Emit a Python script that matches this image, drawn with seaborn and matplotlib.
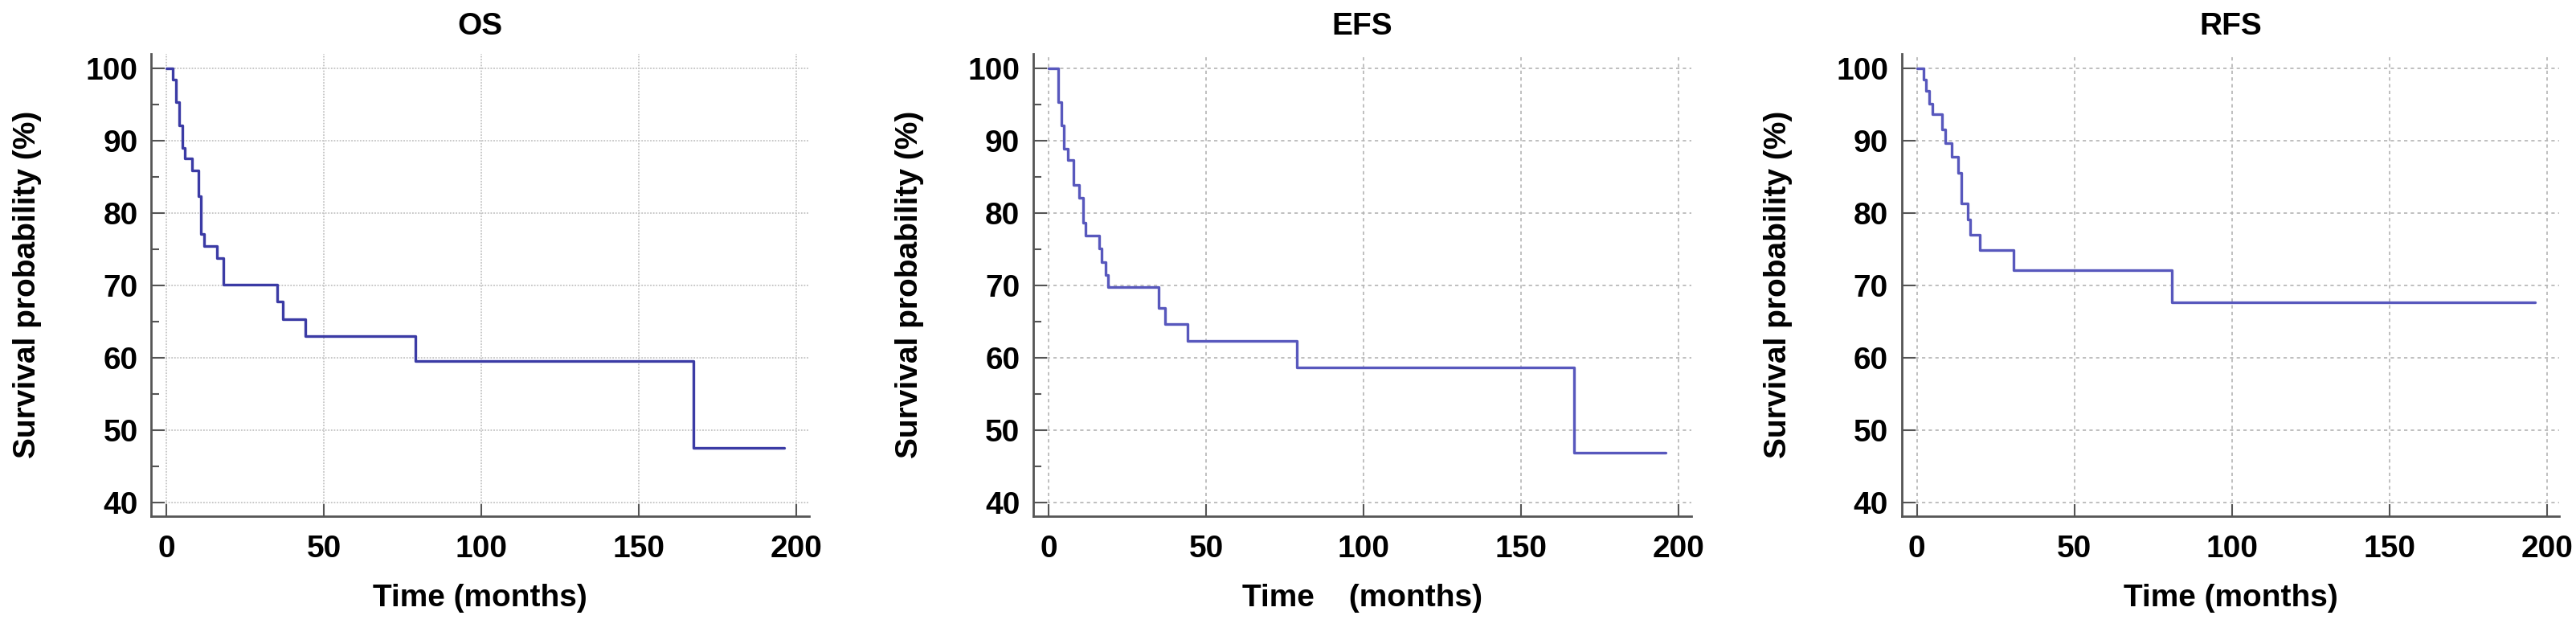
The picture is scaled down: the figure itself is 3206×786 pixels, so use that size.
import matplotlib
matplotlib.use("Agg")
import matplotlib.pyplot as plt
import seaborn as sns
import pandas as pd
from matplotlib.ticker import MultipleLocator

# ---- data ----
panel_titles = ["OS", "EFS", "RFS"]
x_labels = ["Time (months)", "Time    (months)", "Time (months)"]
x_ticks = [0, 50, 100, 150, 200]
y_ticks = [40, 50, 60, 70, 80, 90, 100]

os_time = [0, 1.9, 3.0, 4.0, 4.9, 5.9, 8.0, 10.0, 10.8, 11.8, 15.9, 18.0, 35.0, 36.9, 44.0, 78.9, 167.2, 196.0]
os_surv = [100, 98.4, 95.3, 92.1, 89.0, 87.5, 85.8, 82.3, 77.1, 75.4, 73.7, 70.1, 67.7, 65.3, 63.0, 59.5, 47.5, 47.5]

efs_time = [0, 3.0, 4.0, 4.9, 6.1, 7.9, 9.8, 10.9, 11.8, 16.1, 16.9, 18.1, 19.0, 34.9, 37.0, 44.2, 78.8, 166.9, 196.0]
efs_surv = [100, 95.3, 92.1, 88.8, 87.3, 83.8, 82.1, 78.6, 76.8, 75.1, 73.2, 71.4, 69.7, 66.9, 64.6, 62.3, 58.6, 46.9, 46.9]

rfs_time = [0, 2.1, 3.0, 3.8, 4.9, 8.0, 8.9, 11.0, 13.0, 14.0, 16.1, 17.0, 20.0, 30.8, 80.9, 196.2]
rfs_surv = [100, 98.4, 96.9, 95.1, 93.6, 91.5, 89.6, 87.7, 85.5, 81.3, 79.1, 77.0, 74.8, 72.1, 67.6, 67.6]

series = [(os_time, os_surv), (efs_time, efs_surv), (rfs_time, rfs_surv)]

# ---- styles ----
line_colors = ["#3b3ba5", "#5858bd", "#5858bd"]
grid_styles = [
    dict(color="#c4c4c4", linestyle=(0, (1, 1)), linewidth=1.3),
    dict(color="#b4b4b4", linestyle=(0, (2.5, 2.5)), linewidth=1.2),
    dict(color="#b4b4b4", linestyle=(0, (2.5, 2.5)), linewidth=1.2),
]
minor_y = [True, True, False]

sns.set_style("white")
plt.rcParams["font.family"] = ["Liberation Sans", "DejaVu Sans"]
plt.rcParams["font.weight"] = "bold"
plt.rcParams["axes.labelweight"] = "bold"
plt.rcParams["axes.titleweight"] = "bold"
plt.rcParams["text.color"] = "black"
plt.rcParams["axes.labelcolor"] = "black"
plt.rcParams["xtick.labelcolor"] = "black"
plt.rcParams["ytick.labelcolor"] = "black"

fig = plt.figure(figsize=(32.06, 7.86), dpi=100)
W, H = 3206.0, 786.0
lefts_px = [188.3, 1286.0, 2366.7]
ax_w = 818.7 / W
ax_b = (H - 641.7) / H
ax_h = 575.0 / H

spine_col = "#555555"

for i, (t, s) in enumerate(series):
    ax = fig.add_axes([lefts_px[i] / W, ax_b, ax_w, ax_h])
    df = pd.DataFrame({"time": t, "surv": s})
    sns.lineplot(data=df, x="time", y="surv", ax=ax, drawstyle="steps-post",
                 color=line_colors[i], linewidth=2.4, sort=False, zorder=3)
    ax.set_xlim(-4.85, 204)
    ax.set_ylim(38.1, 102.0)
    ax.set_xticks(x_ticks)
    ax.set_yticks(y_ticks)
    if minor_y[i]:
        ax.yaxis.set_minor_locator(MultipleLocator(5))
    ax.set_axisbelow(True)
    ax.grid(True, which="major", **grid_styles[i])
    ax.grid(False, which="minor")
    for side in ["top", "right"]:
        ax.spines[side].set_visible(False)
    for side in ["left", "bottom"]:
        ax.spines[side].set_color(spine_col)
        ax.spines[side].set_linewidth(2.0)
    ax.tick_params(axis="x", which="major", direction="in", length=10.8, width=1.5,
                   color=spine_col, labelcolor="black", pad=17, labelsize=28, bottom=True)
    ax.tick_params(axis="y", which="major", direction="in", length=12, width=1.5,
                   color=spine_col, labelcolor="black", pad=12, labelsize=28, left=True)
    ax.tick_params(axis="y", which="minor", direction="in", length=7.5, width=1.5,
                   color=spine_col, left=True)
    for lab in ax.get_xticklabels() + ax.get_yticklabels():
        lab.set_fontweight("bold")
    ax.set_xlabel(x_labels[i], fontsize=28, fontweight="bold", color="black")
    ax.set_ylabel("Survival probability (%)", fontsize=28, fontweight="bold", color="black")
    ax.xaxis.set_label_coords(0.5, -0.147)
    ax.yaxis.set_label_coords(-0.166, 0.5)
    ax.set_title(panel_titles[i], fontsize=28, fontweight="bold", pad=17, color="black")

fig.savefig("out.png", dpi=100, facecolor="white")
